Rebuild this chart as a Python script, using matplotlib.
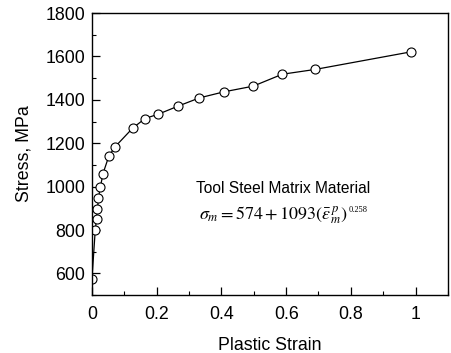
import matplotlib
matplotlib.use("Agg")
import matplotlib.pyplot as plt
from matplotlib.ticker import MultipleLocator
from matplotlib.transforms import offset_copy

# plastic strain vs flow stress
strain = [0.0, 0.010, 0.014, 0.017, 0.020, 0.026, 0.034, 0.052, 0.071,
          0.126, 0.164, 0.205, 0.266, 0.332, 0.408, 0.498, 0.588, 0.689, 0.985]
stress = [575, 798, 852, 895, 949, 998, 1060, 1140, 1183,
          1270, 1314, 1334, 1371, 1409, 1437, 1463, 1518, 1540, 1621]

xticks = [0, 0.2, 0.4, 0.6, 0.8, 1]
xticklabels = ["0", "0.2", "0.4", "0.6", "0.8", "1"]
yticks = [600, 800, 1000, 1200, 1400, 1600, 1800]

plt.rcParams['font.family'] = ['Liberation Sans', 'DejaVu Sans']
plt.rcParams['mathtext.fontset'] = 'stix'

fig = plt.figure(figsize=(4.52, 3.53), dpi=100)
ax = fig.add_axes([0.2035, 0.164, 0.7875, 0.799])

ax.plot(strain, stress, color='black', lw=0.9, marker='o', ms=6.5,
        mfc='white', mec='black', mew=0.8)

ax.set_xlim(0, 1.1)
ax.set_ylim(500, 1800)
ax.set_xticks(xticks)
ax.set_xticklabels(xticklabels)
ax.set_yticks(yticks)
ax.xaxis.set_minor_locator(MultipleLocator(0.1))
ax.yaxis.set_minor_locator(MultipleLocator(100))
ax.tick_params(which='both', direction='in', labelsize=12.8)
ax.tick_params(axis='x', pad=8)
ax.tick_params(axis='y', pad=5)
ax.tick_params(which='major', length=6, width=0.9)
ax.tick_params(which='minor', length=3, width=0.8)
for s in ax.spines.values():
    s.set_linewidth(1.0)

ax.set_xlabel("Plastic Strain", fontsize=12.8, labelpad=10)
ax.set_ylabel("Stress, MPa", fontsize=12.8, labelpad=9)

ax.text(0.32, 992, "Tool Steel Matrix Material", fontsize=11.2, va='center')
eq = ax.text(0.33, 868,
             r"$\sigma_{m} = 574 + 1093(\bar{\varepsilon}_{m}^{\,p})$",
             fontsize=13, va='center')

# small exponent placed right after the bracket
fig.canvas.draw()
bb = eq.get_window_extent()
x_end, y_top = ax.transData.inverted().transform((bb.x1, bb.y1))
ax.text(x_end, y_top, "0.258", fontsize=6, va='top', ha='left',
        family='Liberation Serif',
        transform=offset_copy(ax.transData, fig=fig, x=1, y=-1, units='points'))

fig.savefig("out.png", dpi=100)
